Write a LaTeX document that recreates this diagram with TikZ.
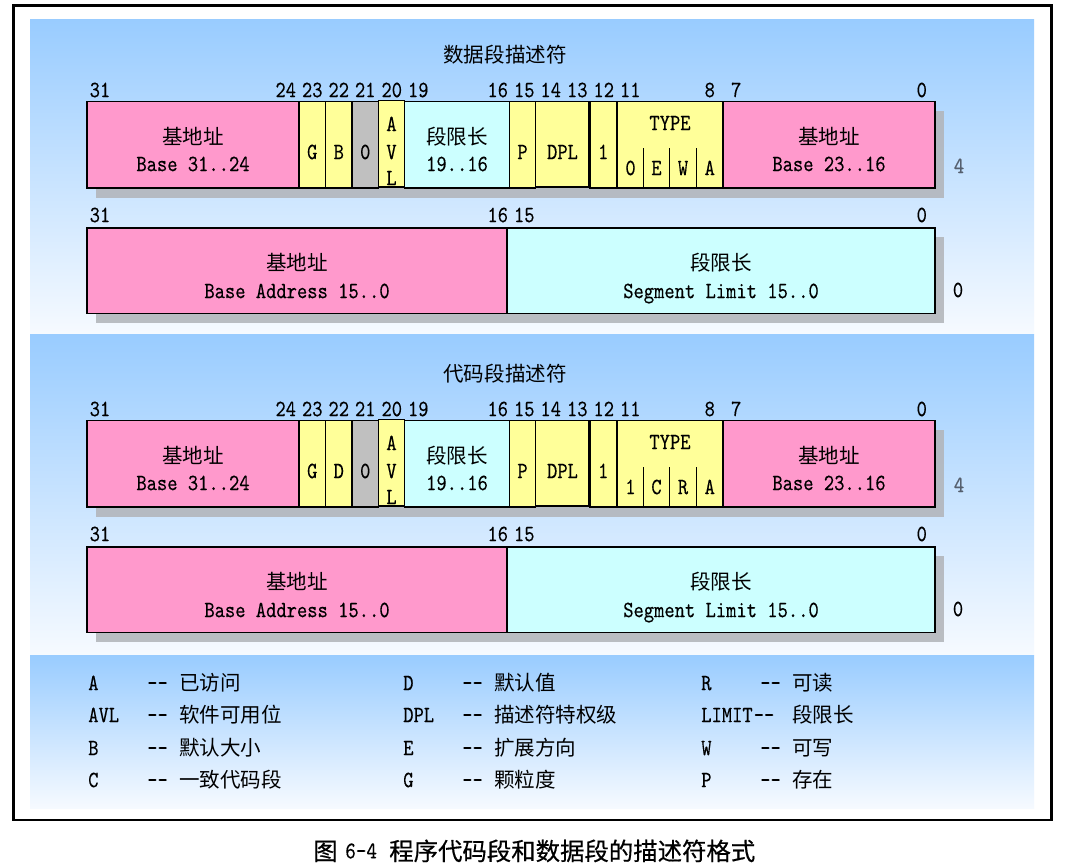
\documentclass[tikz,border=0pt]{standalone}
\usepackage{fontspec}
\newfontfamily\cjk{Noto Sans CJK SC}
\newfontfamily\cjkcap{Noto Sans CJK SC}[FakeBold=0.5]
\newfontfamily\mono{lmmono10-regular}[Extension=.otf,FakeStretch=0.84,FakeBold=0.25]

\definecolor{panelblue}{RGB}{153,204,255}
\definecolor{panelpale}{RGB}{246,250,255}
\definecolor{pinkc}{RGB}{255,153,204}
\definecolor{cyanc}{RGB}{204,255,255}
\definecolor{yellowc}{RGB}{255,255,153}
\definecolor{grayc}{RGB}{192,192,192}
\definecolor{shadowc}{RGB}{178,181,186}
\definecolor{sidegray}{RGB}{85,95,110}

\tikzset{
  panel/.style={top color=panelblue, bottom color=panelpale, draw=none},
  field/.style={draw=black, line width=1.1pt},
  shadowbox/.style={fill=shadowc, fill opacity=0.88},
  cj/.style={font=\cjk\fontsize{15.4}{18}\selectfont, inner sep=0pt, anchor=base, yshift=-5.8pt},
  mo/.style={font=\mono\fontsize{17.5}{20}\selectfont, inner sep=0pt, anchor=base, yshift=-5.35pt},
  cjw/.style={cj, anchor=base west},
  mow/.style={mo, anchor=base west},
}
\newcommand\dd{-\kern0pt-}

% one descriptor panel: #1 vertical offset, #2 name prefix, #3 title,
% #4 letter of bit 22, #5 letter of bit 11, #6 letter of bit 10, #7 letter of bit 9
\newcommand\descpanel[7]{%
\begin{scope}[shift={(0,#1)}]
  \node[cj] (#2title) at (505,55) {#3};
  % bit numbers of the high word
  \foreach \b/\x in {31/100,24/285.75,23/312.25,22/338.75,21/365.25,20/391.75,
                     19/418.25,16/497.75,15/524.25,14/550.75,13/577.25,12/603.75,
                     11/630.25,8/709.75,7/736.25,0/921.75}
    \node[mo] (#2hb\b) at (\x,90) {\b};
  % bit numbers of the low word
  \foreach \b/\x in {31/100,16/497.75,15/524.25,0/921.75}
    \node[mo] (#2lb\b) at (\x,215) {\b};
  % shadows
  \fill[shadowbox] (96,111) rectangle (944,198);
  \fill[shadowbox] (96,237) rectangle (944,323);
  % high word fields
  \filldraw[field, fill=pinkc]   (87,101.5) rectangle (299,188);
  \filldraw[field, fill=yellowc] (299,101.5) rectangle (325.5,188);
  \filldraw[field, fill=yellowc] (325.5,101.5) rectangle (352,188);
  \filldraw[field, fill=grayc]   (352,101.5) rectangle (378.5,188);
  \filldraw[field, fill=yellowc] (378.5,100.5) rectangle (404.5,187);
  \filldraw[field, fill=cyanc]   (404.5,101.5) rectangle (509.5,188);
  \filldraw[field, fill=yellowc] (509.5,101.5) rectangle (535.5,188);
  \filldraw[field, fill=yellowc] (535.5,101.5) rectangle (589.5,187);
  \filldraw[field, fill=yellowc] (589.5,101.5) rectangle (617,188);
  \filldraw[field, fill=yellowc] (617,101.5) rectangle (723,188);
  \filldraw[field, fill=pinkc]   (723,101.5) rectangle (935,188);
  \draw[line width=2.2pt] (589.5,101.5) -- (589.5,188);
  \foreach \x in {643.5,669.5,696.5}
    \draw[field] (\x,148) -- (\x,188);
  % low word fields
  \filldraw[field, fill=pinkc] (87,228) rectangle (507,313.5);
  \filldraw[field, fill=cyanc] (507,228) rectangle (935,313.5);
  % high word texts
  \node[cj] (#2hbase) at (193,137) {基地址};
  \node[mo] (#2hbasen) at (193,164) {Base 31..24};
  \node[mo] (#2g) at (312.25,152) {G};
  \node[mo] (#2db) at (338.75,152) {#4};
  \node[mo] (#2zero) at (365.25,152) {0};
  \node[mo] (#2avla) at (391.5,124) {A};
  \node[mo] (#2avlv) at (391.5,152) {V};
  \node[mo] (#2avll) at (391.5,178) {L};
  \node[cj] (#2hlim) at (457,137) {段限长};
  \node[mo] (#2hlimn) at (457,164) {19..16};
  \node[mo] (#2p) at (522.5,152) {P};
  \node[mo] (#2dpl) at (562.5,152) {DPL};
  \node[mo] (#2s) at (603.25,152) {1};
  \node[mo] (#2type) at (670,123) {TYPE};
  \node[mo] (#2t11) at (630.5,168) {#5};
  \node[mo] (#2t10) at (656.5,168) {#6};
  \node[mo] (#2t9)  at (683,168) {#7};
  \node[mo] (#2t8)  at (709.75,168) {A};
  \node[cj] (#2mbase) at (829,137) {基地址};
  \node[mo] (#2mbasen) at (829,164) {Base 23..16};
  % low word texts
  \node[cj] (#2lbase) at (297,263) {基地址};
  \node[mo] (#2lbasen) at (297,291) {Base Address 15..0};
  \node[cj] (#2llim) at (721,263) {段限长};
  \node[mo] (#2llimn) at (721,291) {Segment Limit 15..0};
  % byte offsets
  \node[mo, text=sidegray] (#2off4) at (959,166) {4};
  \node[mo] (#2off0) at (958,290) {0};
\end{scope}}

\begin{document}
\begin{tikzpicture}[x=0.75pt, y=-0.75pt]
  \useasboundingbox (0,0) rectangle (1066,867);
  \fill[white] (0,0) rectangle (1066,867);

  % background bands
  \shade[panel] (30,20) rectangle (1034,334);
  \shade[panel] (30,334) rectangle (1034,655);
  \shade[panel] (30,655) rectangle (1034,808);

  \descpanel{0}{data}{数据段描述符}{B}{0}{E}{W}
  \descpanel{319}{code}{代码段描述符}{D}{1}{C}{R}

  % legend
  \foreach \k/\d/\n/\x/\y in {A/已访问/la/88/683, AVL/软件可用位/lavl/88/715,
                              B/默认大小/lb/88/748, C/一致代码段/lc/88/780,
                              D/默认值/ld/403/683, DPL/描述符特权级/ldpl/403/715,
                              E/扩展方向/le/403/748, G/颗粒度/lg/403/780,
                              R/可读/lr/701/683, W/可写/lw/701/748, P/存在/lp/701/780}
  {
    \node[mow] (\n key) at (\x,\y) {\k};
    \node[mow] (\n dash) at (\x+59,\y) {\dd};
    \node[cjw] (\n text) at (\x+91,\y) {\d};
  }
  \node[mow] (llimkey) at (701,715) {LIMIT};
  \node[mow] (llimdash) at (753.5,715) {\dd};
  \node[cjw] (llimtext) at (792,715) {段限长};

  % outer frame
  \draw[line width=2pt] (13.5,5.5) rectangle (1051.5,820);

  % caption
  \node[font=\cjkcap\fontsize{18.3}{22}\selectfont, inner sep=0pt, anchor=base west, yshift=-6.9pt]
    (capfig) at (313,851) {图};
  \node[font=\mono\fontsize{18}{21}\selectfont, inner sep=0pt, anchor=base west, yshift=-5.5pt]
    (capnum) at (345,851) {6-4};
  \node[font=\cjkcap\fontsize{18.3}{22}\selectfont, inner sep=0pt, anchor=base west, yshift=-6.9pt]
    (captext) at (389,851) {程序代码段和数据段的描述符格式};
\end{tikzpicture}
\end{document}
